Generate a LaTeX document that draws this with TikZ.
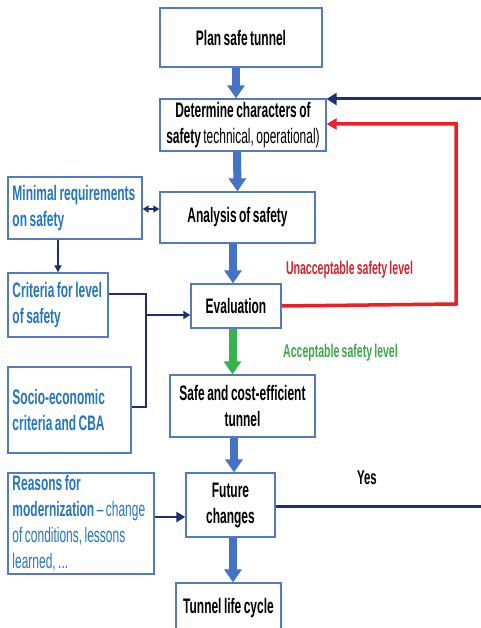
\documentclass[tikz,border=0pt]{standalone}
\usepackage{fontspec}
\setmainfont{Liberation Sans}[FakeStretch=0.57,WordSpace=0.75]
\usetikzlibrary{arrows.meta,calc}
\definecolor{boxblue}{RGB}{84,120,196}
\definecolor{fatblue}{RGB}{68,114,196}
\definecolor{txtblue}{RGB}{36,118,196}
\definecolor{navy}{RGB}{31,46,110}
\definecolor{redl}{RGB}{238,30,36}
\definecolor{redt}{RGB}{214,35,45}
\definecolor{greena}{RGB}{52,180,74}
\definecolor{greent}{RGB}{60,170,74}
\newcommand{\natsp}{\spaceskip=0pt\xspaceskip=0pt\relax}
\begin{document}
\begin{tikzpicture}[x=1pt,y=-1pt,
  box/.style={draw=boxblue,line width=1.3pt,fill=white,inner sep=0pt,
    font=\fontsize{21}{26}\selectfont\bfseries,align=center},
  lbox/.style={box,align=left,text=txtblue,inner xsep=4.5pt},
  fat/.style={draw=fatblue,line width=8pt,-{Triangle[length=13pt,width=17pt]}},
  fatgreen/.style={fat,draw=greena},
  navyarrow/.style={draw=navy,line width=2.5pt,-{Triangle[length=9pt,width=10pt]}},
  navythin/.style={draw=navy,line width=1.8pt},
  lbl/.style={font=\fontsize{18.5}{20}\selectfont\bfseries,inner sep=0pt}
]
\useasboundingbox (0,0) rectangle (480,628);
\fill[white] (0,0) rectangle (480,628);

% main boxes
\node[box,minimum width=162pt,minimum height=59pt] (plan) at (241,37.5) {Plan safe tunnel};
\node[box,minimum width=166pt,minimum height=52pt] (det) at (243,125)
  {Determine characters of\\ safety {\mdseries technical, operational)}};
\node[box,minimum width=155pt,minimum height=51pt] (ana) at (237.5,217.5) {Analysis of safety};
\node[box,minimum width=90pt,minimum height=44pt] (eval) at (236,306) {Evaluation};
\node[box,minimum width=145pt,minimum height=62pt] (safe) at (242.5,406)
  {Safe and cost-efficient\\ tunnel};
\node[box,minimum width=89pt,minimum height=64pt] (fut) at (230.5,505) {Future\\ changes};
\node[box,minimum width=105pt,minimum height=50pt] (life) at (228.5,608) {Tunnel life cycle};

% left boxes
\node[lbox,text width=125pt,minimum height=62pt] (minreq) at (75,208)
  {\natsp\mbox{Minimal requirements}\\ \mbox{on safety}};
\node[lbox,text width=91pt,minimum height=64pt] (crit) at (58,305)
  {\natsp\mbox{Criteria for level}\\ \mbox{of safety}};
\node[lbox,text width=114pt,minimum height=86pt] (socio) at (69.5,410)
  {\natsp\mbox{Socio-economic}\\ \mbox{criteria and CBA}};
\node[lbox,text width=137pt,minimum height=101pt] (reas) at (81,523.5)
  {\natsp\mbox{Reasons for}\\ \mbox{modernization {\mdseries -- change}}\\ \mbox{\mdseries of conditions, lessons}\\ \mbox{\mdseries learned, ...}};

% fat arrows
\draw[fat] ([xshift=-5pt]plan.south) -- ([xshift=-7pt]det.north);
\draw[fat] ([xshift=-6pt]det.south) -- ([xshift=0pt]ana.north);
\draw[fat] ([xshift=-4.5pt]ana.south) -- ([xshift=-3pt]eval.north);
\draw[fatgreen] ([xshift=-3.5pt]eval.south) -- ([xshift=-10pt]safe.north);
\draw[fat] ([xshift=-8.5pt]safe.south) -- ([xshift=3.5pt]fut.north);
\draw[fat] ([xshift=2.5pt]fut.south) -- ([xshift=4.5pt]life.north);

% red feedback
\coordinate (r1) at (456,304);
\coordinate (r2) at (456,124);
\draw[draw=redl,line width=3.5pt,line join=miter,-{Triangle[length=10pt,width=11pt]}]
  (eval.east) -- (r1) -- (r2) -- (det.east |- r2);

% navy feedback from Yes
\coordinate (yesR) at (482,506);
\coordinate (topR) at (482,99);
\draw[draw=navy,line width=3pt] (fut.east |- yesR) -- (yesR);
\draw[draw=navy,line width=3pt,-{Triangle[length=10pt,width=12pt]}] (topR) -- (det.east |- topR);

% left connectors
\draw[navythin,{Triangle[length=6pt,width=7pt]}-{Triangle[length=6pt,width=7pt]}]
  (minreq.east |- 0,209) -- (ana.west |- 0,209);
\draw[navythin,-{Triangle[length=7pt,width=7pt]}] (minreq.south -| 58,0) -- (crit.north -| 58,0);
\coordinate (j1) at (146,294);
\coordinate (j2) at (146,407);
\coordinate (j3) at (146,315);
\draw[navythin,line width=2.3pt,line join=miter] (crit.east |- j1) -- (j1) -- (j2) -- (socio.east |- j2);
\draw[navythin,line width=2.3pt,-{Triangle[length=7pt,width=8pt]}] (j3) -- (eval.west |- j3);
\draw[navyarrow] (reas.east |- 0,517) -- (fut.west |- 0,517);

% labels
\node[lbl,text=redt] (unacc) at (349.5,270) {Unacceptable safety level};
\node[lbl,text=greent] (acc) at (340.5,353) {Acceptable safety level};
\node[lbl,font=\fontsize{20}{20}\selectfont\bfseries] (yes) at (367,478) {Yes};
\end{tikzpicture}
\end{document}
